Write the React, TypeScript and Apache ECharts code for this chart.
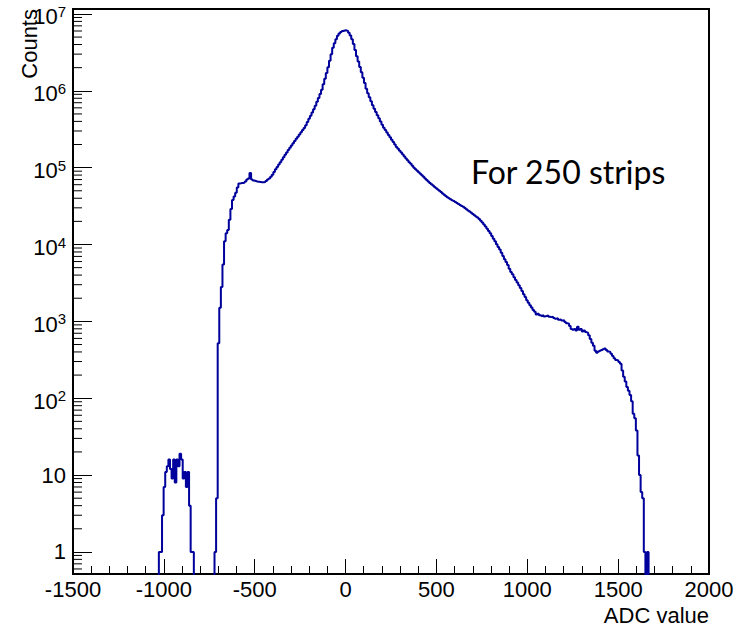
import React, { useEffect, useRef } from "react";
import * as echarts from "echarts";

// ---- axis ranges ----
const X_MIN = -1500;
const X_MAX = 2000;
const X_INTERVAL = 500;
const Y_MIN = 0.516;
const Y_MAX = 1.16e7;

// ---- histogram binning ----
const BIN_WIDTH = 8.75;
const FIRST_EDGE = -1045;

// bins from -1045 to -721.25 (small cluster near -950, then empty bins)
const lowClusterCounts = [
  0, 0, 1, 1, 3, 7, 11, 13, 16, 12, 9, 16, 8, 16, 13, 19, 16, 9, 11, 7, 11, 4, 1, 1,
  0, 0, 0, 0, 0, 0, 0, 0, 0, 0, 0, 0, 0,
];

// bins from -721.25 onwards
const mainCounts = [
  1, 5, 520, 1500, 2800, 5500, 11000, 14000, 15500, 21000, 29000, 38000, 42000, 47000,
  55000, 62000, 63000, 63000, 64000, 66000, 70000, 72000, 85000, 70000, 68000, 67000,
  66000, 65500, 65000, 64500, 64500, 65000, 67000, 70000, 72000, 76000, 81000, 88000,
  95000, 102000, 110000, 118000, 127000, 137000, 147000, 158000, 170000, 182000, 194000,
  208000, 222000, 237000, 253000, 270000, 288000, 308000, 329000, 357000, 393000, 432000,
  475000, 523000, 575000, 637000, 718000, 809000, 912000, 1030000, 1220000, 1440000,
  1710000, 2020000, 2470000, 3000000, 3630000, 4170000, 4680000, 5190000, 5560000,
  5820000, 6000000, 6100000, 6120000, 6030000, 5690000, 5250000, 4680000, 4070000,
  3390000, 2820000, 2400000, 2040000, 1740000, 1480000, 1260000, 1060000, 929000,
  824000, 731000, 649000, 583000, 530000, 482000, 438000, 398000, 362000, 331000,
  308000, 287000, 267000, 248000, 231000, 215000, 200000, 186000, 176000, 166000,
  157000, 148000, 140000, 132000, 125000, 118000, 112000, 105500, 100000, 95500, 91200,
  87100, 83200, 79400, 75900, 72400, 69200, 66100, 63100, 60800, 58500, 56200, 54100,
  52000, 50000, 48100, 46100, 44400, 42700, 41200, 40100, 38900, 37800, 36700, 35700,
  34700, 33700, 32700, 31800, 30900, 29800, 28800, 27700, 26800, 25900, 24900, 24100,
  23200, 22400, 21400, 20400, 19300, 18200, 17200, 16000, 15000, 14000, 12900, 11900,
  11000, 10100, 9300, 8600, 7800, 7100, 6450, 5900, 5400, 4850, 4400, 4100, 3750, 3450,
  3200, 2950, 2720, 2480, 2260, 2070, 1880, 1740, 1620, 1510, 1410, 1330, 1230, 1260,
  1200, 1175, 1200, 1160, 1175, 1190, 1150, 1135, 1150, 1110, 1085, 1095, 1050, 1060,
  1025, 1035, 980, 945, 935, 870, 795, 775, 795, 760, 850, 775, 795, 740, 760, 725, 710,
  660, 590, 525, 480, 415, 390, 405, 415, 425, 435, 445, 425, 405, 400, 380, 355, 330,
  315, 310, 295, 280, 230, 190, 165, 140, 125, 110, 91, 63, 55, 38, 18, 10, 6, 5, 1, 0,
  1, 0,
];

const counts = [...lowClusterCounts, ...mainCounts];

const annotation = "For 250 strips";
const xTitle = "ADC value";
const yTitle = "Counts";

const FONT = "'Liberation Sans', Arial, Helvetica, sans-serif";
const LINE_COLOR = "#00009c";

export default function App() {
  const ref = useRef<HTMLDivElement>(null);

  useEffect(() => {
    if (!ref.current) return;
    const chart = echarts.init(ref.current, undefined, { renderer: "svg" });

    // step histogram: left edge of each bin, plus closing right edge
    const floorValue = Y_MIN * 0.4; // empty bins drawn below the frame (clipped)
    const histData: [number, number][] = counts.map((c, i) => [
      FIRST_EDGE + i * BIN_WIDTH,
      c > 0 ? c : floorValue,
    ]);
    const last = counts[counts.length - 1];
    histData.push([FIRST_EDGE + counts.length * BIN_WIDTH, last > 0 ? last : floorValue]);

    // minor ticks of the log axis: 2..9 x 10^n inside the range
    const minorTicks: [number, number][] = [];
    for (let n = -1; n <= 7; n++) {
      for (let k = 2; k <= 9; k++) {
        const v = k * Math.pow(10, n);
        if (v > Y_MIN && v < Y_MAX) minorTicks.push([X_MIN, v]);
      }
    }

    chart.setOption({
      animation: false,
      backgroundColor: "#fff",
      grid: {
        left: 73,
        right: 34,
        top: 9,
        bottom: 54,
        show: true,
        borderColor: "#000",
        borderWidth: 2,
        backgroundColor: "transparent",
        outerBoundsMode: "none",
      },
      xAxis: {
        type: "value",
        min: X_MIN,
        max: X_MAX,
        interval: X_INTERVAL,
        axisLine: { show: true, onZero: false, lineStyle: { color: "#000", width: 2 } },
        axisTick: { show: true, inside: true, length: 15, lineStyle: { color: "#000", width: 1 } },
        minorTick: { show: true, splitNumber: 5, length: 8, lineStyle: { color: "#000", width: 1 } },
        splitLine: { show: false },
        minorSplitLine: { show: false },
        axisLabel: {
          color: "#000",
          fontSize: 22,
          fontFamily: FONT,
          margin: 4,
          showMinLabel: true,
          showMaxLabel: true,
          formatter: (v: number) => String(v),
        },
      },
      yAxis: {
        type: "log",
        logBase: 10,
        min: Y_MIN,
        max: Y_MAX,
        axisLine: { show: true, onZero: false, lineStyle: { color: "#000", width: 2 } },
        axisTick: { show: true, inside: true, length: 19, lineStyle: { color: "#000", width: 1 } },
        splitLine: { show: false },
        axisLabel: {
          color: "#000",
          fontSize: 22,
          fontFamily: FONT,
          margin: 7,
          formatter: (v: number) => {
            const n = Math.log10(v);
            const r = Math.round(n);
            if (Math.abs(n - r) > 1e-6) return "";
            if (r === 0) return "1";
            if (r === 1) return "10";
            return `{b|10}{s|${r}}`;
          },
          rich: {
            b: { fontSize: 22, fontFamily: FONT, color: "#000", padding: [6, 0, 0, 0] },
            s: { fontSize: 15, fontFamily: FONT, color: "#000", padding: [4, 0, 9, 0] },
          },
        },
      },
      series: [
        {
          type: "line",
          data: histData,
          step: "end",
          symbol: "none",
          clip: true,
          lineStyle: { color: LINE_COLOR, width: 2 },
          z: 3,
        },
        {
          type: "custom",
          data: minorTicks,
          silent: true,
          clip: false,
          z: 4,
          renderItem: (_params: any, api: any) => {
            const p = api.coord([api.value(0), api.value(1)]);
            return {
              type: "line",
              shape: { x1: p[0], y1: p[1], x2: p[0] + 9, y2: p[1] },
              style: { stroke: "#000", lineWidth: 1 },
            };
          },
        },
      ],
      graphic: [
        {
          type: "text",
          x: 471,
          y: 171,
          style: {
            text: annotation,
            font: "32px Lato, 'Open Sans', sans-serif",
            fill: "#000",
            align: "left",
            verticalAlign: "middle",
            textAlign: "left",
            textVerticalAlign: "middle",
          },
        },
        {
          type: "text",
          x: 709,
          y: 615,
          style: {
            text: xTitle,
            font: `22px ${FONT}`,
            fill: "#000",
            align: "right",
            verticalAlign: "middle",
            textAlign: "right",
            textVerticalAlign: "middle",
          },
        },
        {
          type: "text",
          x: 29,
          y: 9,
          rotation: Math.PI / 2,
          style: {
            text: yTitle,
            font: `22px ${FONT}`,
            fill: "#000",
            align: "right",
            verticalAlign: "middle",
            textAlign: "right",
            textVerticalAlign: "middle",
          },
        },
      ],
    });

    return () => chart.dispose();
  }, []);

  return (
    <div
      ref={ref}
      style={{ position: "fixed", left: 0, top: 0, width: 743, height: 628, background: "#fff" }}
    />
  );
}
